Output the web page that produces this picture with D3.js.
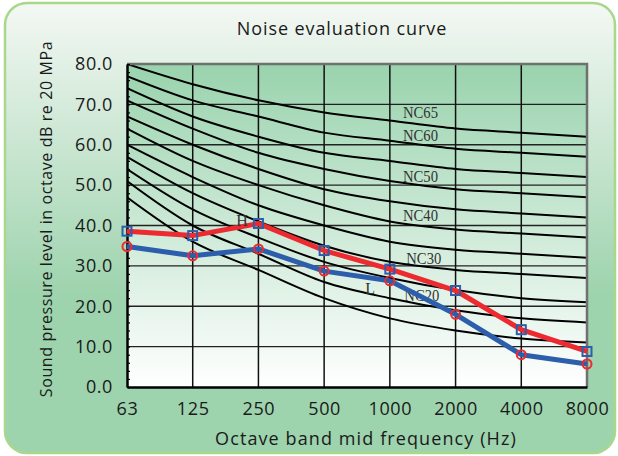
<!DOCTYPE html>
<html>
<head>
<meta charset="utf-8">
<title>Noise evaluation curve</title>
<script src="https://d3js.org/d3.v7.min.js"></script>
<style>
  body { margin: 0; background: #fff; }
  svg text { font-family: "Open Sans", "DejaVu Sans", sans-serif; }
</style>
</head>
<body>
<div id="chart"></div>
<script>
// octave band categories
var freqs = ["63", "125", "250", "500", "1000", "2000", "4000", "8000"];
var yTicks = [0, 10, 20, 30, 40, 50, 60, 70, 80];

// NC reference curves (dB per octave band)
var ncNames = ["NC15", "NC20", "NC25", "NC30", "NC35", "NC40", "NC45", "NC50", "NC55", "NC60", "NC65"];
var ncValues = [
  [47, 36, 29, 22, 17, 14, 12, 11],
  [51, 40, 33, 26, 22, 19, 17, 16],
  [54, 44, 37, 31, 27, 24, 22, 21],
  [57, 48, 41, 35, 31, 29, 28, 27],
  [60, 52, 45, 40, 36, 34, 33, 32],
  [64, 56, 50, 45, 41, 39, 38, 37],
  [67, 60, 54, 49, 46, 44, 43, 42],
  [71, 64, 58, 54, 51, 49, 48, 47],
  [74, 67, 62, 58, 56, 54, 53, 52],
  [77, 71, 67, 63, 61, 59, 58, 57],
  [80, 75, 71, 68, 66, 64, 63, 62]
];
// which curves get a label, and where (band index, level)
var ncLabels = [["NC65", 4.2, 67.9], ["NC60", 4.2, 62.2], ["NC50", 4.2, 52.1],
                ["NC40", 4.2, 42.5], ["NC30", 4.25, 31.9], ["NC20", 4.22, 22.7]];

// measured spectra
var seriesH = [38.6, 37.5, 40.5, 33.8, 29.2, 23.9, 14.2, 8.8];
var seriesL = [34.8, 32.5, 34.2, 28.7, 26.3, 18.0, 8.0, 5.7];

var width = 618, height = 456;
var mLeft = 127, mRight = 587, mTop = 64, mBottom = 387;

var svg = d3.select("#chart").append("svg")
  .attr("width", width)
  .attr("height", height);

var defs = svg.append("defs");
var panelGrad = defs.append("linearGradient").attr("id", "panelGrad")
  .attr("x1", 0).attr("y1", 0).attr("x2", 0).attr("y2", 1);
panelGrad.append("stop").attr("offset", "0%").attr("stop-color", "#f4f8f4");
panelGrad.append("stop").attr("offset", "65%").attr("stop-color", "#9dd3ad");
panelGrad.append("stop").attr("offset", "100%").attr("stop-color", "#9dd3ad");

var plotGrad = defs.append("linearGradient").attr("id", "plotGrad")
  .attr("x1", 0).attr("y1", 0).attr("x2", 0).attr("y2", 1);
plotGrad.append("stop").attr("offset", "0%").attr("stop-color", "#99d3ad");
plotGrad.append("stop").attr("offset", "100%").attr("stop-color", "#ffffff");

defs.append("clipPath").attr("id", "plotClip")
  .append("rect").attr("x", mLeft).attr("y", mTop)
  .attr("width", mRight - mLeft).attr("height", mBottom - mTop);

// outer panel
svg.append("rect")
  .attr("x", 5).attr("y", 3)
  .attr("width", 610).attr("height", 450)
  .attr("rx", 22)
  .attr("fill", "url(#panelGrad)")
  .attr("stroke", "#a8d88c")
  .attr("stroke-width", 2.5);

var x = d3.scalePoint().domain(freqs).range([mLeft, mRight]);
var y = d3.scaleLinear().domain([0, 80]).range([mBottom, mTop]);
var xi = function(i) { return mLeft + i * (mRight - mLeft) / (freqs.length - 1); };

// plot background
svg.append("rect")
  .attr("x", mLeft).attr("y", mTop)
  .attr("width", mRight - mLeft).attr("height", mBottom - mTop)
  .attr("fill", "url(#plotGrad)");

// grid
svg.append("g").selectAll("line")
  .data(yTicks.slice(1, -1))
  .enter().append("line")
  .attr("x1", mLeft).attr("x2", mRight)
  .attr("y1", function(d) { return y(d); })
  .attr("y2", function(d) { return y(d); })
  .attr("stroke", "#222").attr("stroke-width", 1.3);

svg.append("g").selectAll("line")
  .data(freqs.slice(1, -1))
  .enter().append("line")
  .attr("x1", function(d) { return x(d); })
  .attr("x2", function(d) { return x(d); })
  .attr("y1", mTop).attr("y2", mBottom)
  .attr("stroke", "#111").attr("stroke-width", 1.5);

// NC curves
var ncLine = d3.line()
  .x(function(d, i) { return x(freqs[i]); })
  .y(function(d) { return y(d); })
  .curve(d3.curveMonotoneX);

svg.append("g").attr("clip-path", "url(#plotClip)")
  .selectAll("path")
  .data(ncValues)
  .enter().append("path")
  .attr("d", ncLine)
  .attr("fill", "none")
  .attr("stroke", "#000")
  .attr("stroke-width", 2);

var serif = "'Liberation Serif', serif";
svg.append("g").selectAll("text")
  .data(ncLabels)
  .enter().append("text")
  .attr("x", function(d) { return xi(d[1]); })
  .attr("y", function(d) { return y(d[2]); })
  .attr("dy", "0.35em")
  .style("font-family", serif)
  .style("font-size", "16px")
  .attr("textLength", 35)
  .attr("lengthAdjust", "spacingAndGlyphs")
  .attr("fill", "#333")
  .text(function(d) { return d[0]; });

// plot frame: gray top/right, black left/bottom
svg.append("path")
  .attr("d", "M" + mLeft + "," + mTop + "H" + mRight + "V" + mBottom)
  .attr("fill", "none").attr("stroke", "#707070").attr("stroke-width", 2.5);

// y axis
var yAxis = d3.axisLeft(y).tickValues(yTicks).tickFormat(d3.format(".1f"))
  .tickSize(0).tickPadding(14);
var gy = svg.append("g").attr("transform", "translate(" + mLeft + ",0)").call(yAxis);
gy.select(".domain").attr("stroke", "#000").attr("stroke-width", 2.5);
gy.selectAll("text").style("font-size", "18px").style("letter-spacing", "0.6px").attr("fill", "#1a1a1a");

// minor ticks every 2 dB, pointing inward
var gMinor = svg.append("g").attr("transform", "translate(" + mLeft + ",0)")
  .call(d3.axisRight(y).tickValues(d3.range(0, 81, 2)).tickSize(3).tickFormat(""));
gMinor.select(".domain").remove();
gMinor.selectAll("line").attr("stroke", "#000").attr("stroke-width", 1.2);

// x axis
var xAxis = d3.axisBottom(x).tickSize(0).tickPadding(15);
var gx = svg.append("g").attr("transform", "translate(0," + mBottom + ")").call(xAxis);
gx.select(".domain").attr("stroke", "#000").attr("stroke-width", 2.5);
gx.selectAll("text").style("font-size", "18px").style("letter-spacing", "0.6px").attr("fill", "#1a1a1a");

// series
var seriesLine = d3.line()
  .x(function(d, i) { return x(freqs[i]); })
  .y(function(d) { return y(d); });

svg.append("path").datum(seriesL)
  .attr("d", seriesLine)
  .attr("fill", "none").attr("stroke", "#2c5eab").attr("stroke-width", 5)
  .attr("stroke-linejoin", "round");

svg.append("path").datum(seriesH)
  .attr("d", seriesLine)
  .attr("fill", "none").attr("stroke", "#ec2a30").attr("stroke-width", 5)
  .attr("stroke-linejoin", "round");

svg.append("g").selectAll("rect")
  .data(seriesH)
  .enter().append("rect")
  .attr("x", function(d, i) { return x(freqs[i]) - 4.5; })
  .attr("y", function(d) { return y(d) - 4.5; })
  .attr("width", 9).attr("height", 9)
  .attr("fill", "none").attr("stroke", "#2c5eab").attr("stroke-width", 2);

svg.append("g").selectAll("circle")
  .data(seriesL)
  .enter().append("circle")
  .attr("cx", function(d, i) { return x(freqs[i]); })
  .attr("cy", function(d) { return y(d); })
  .attr("r", 4.5)
  .attr("fill", "none").attr("stroke", "#ec2a30").attr("stroke-width", 2);

// series labels
svg.append("text")
  .attr("x", xi(1.75)).attr("y", y(41.2)).attr("dy", "0.35em")
  .attr("text-anchor", "middle")
  .style("font-family", serif).style("font-size", "16px").attr("fill", "#333")
  .text("H");
svg.append("text")
  .attr("x", xi(3.7)).attr("y", y(24.5)).attr("dy", "0.35em")
  .attr("text-anchor", "middle")
  .style("font-family", serif).style("font-size", "16px").attr("fill", "#333")
  .text("L");

// titles
svg.append("text")
  .attr("x", 342).attr("y", 35)
  .attr("text-anchor", "middle")
  .style("font-size", "18px").style("letter-spacing", "0.9px").attr("fill", "#1a1a1a")
  .text("Noise evaluation curve");

svg.append("text")
  .attr("x", 366).attr("y", 445)
  .attr("text-anchor", "middle")
  .style("font-size", "18px").style("letter-spacing", "1.1px").attr("fill", "#1a1a1a")
  .text("Octave band mid frequency (Hz)");

svg.append("text")
  .attr("transform", "translate(52," + 219 + ") rotate(-90)")
  .attr("text-anchor", "middle")
  .style("font-size", "16px").style("letter-spacing", "0.6px").attr("fill", "#1a1a1a")
  .text("Sound pressure level in octave dB re 20 MPa");
</script>
</body>
</html>
